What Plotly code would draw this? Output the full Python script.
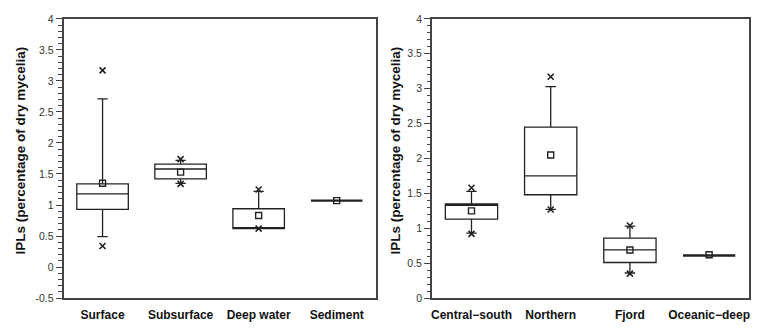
import plotly.graph_objects as go

# ---------------- data ----------------
left_cats = ["Surface", "Subsurface", "Deep water", "Sediment"]
left_q1 = [0.93, 1.42, 0.62, 1.07]
left_median = [1.18, 1.58, 0.62, 1.07]
left_q3 = [1.34, 1.66, 0.94, 1.07]
left_lower = [0.49, 1.35, 0.62, 1.07]
left_upper = [2.71, 1.72, 1.22, 1.07]
left_mean = [1.35, 1.53, 0.83, 1.07]
left_min = [0.34, 1.34, 0.62, None]
left_max = [3.17, 1.74, 1.25, None]

right_cats = ["Central\u2212south", "Northern", "Fjord", "Oceanic\u2212deep"]
right_q1 = [1.13, 1.48, 0.51, 0.61]
right_median = [1.33, 1.75, 0.69, 0.61]
right_q3 = [1.35, 2.45, 0.86, 0.61]
right_lower = [0.93, 1.27, 0.36, 0.61]
right_upper = [1.53, 3.03, 1.03, 0.61]
right_mean = [1.25, 2.05, 0.69, 0.62]
right_min = [0.92, 1.27, 0.35, None]
right_max = [1.58, 3.17, 1.04, None]

left_ticks = [-0.5, 0, 0.5, 1, 1.5, 2, 2.5, 3, 3.5, 4]
left_ticktext = ["-0.5", "0", "0.5", "1", "1.5", "2", "2.5", "3", "3.5", "4"]
right_ticks = [0, 0.5, 1, 1.5, 2, 2.5, 3, 3.5, 4]
right_ticktext = ["0", "0.5", "1", "1.5", "2", "2.5", "3", "3.5", "4"]

y_title = "IPLs (percentage of dry mycelia)"

FONT = "Liberation Sans, Arial, sans-serif"
BOXC = "#222222"
AXC = "#444444"

fig = go.Figure()


def add_panel(cats, q1, med, q3, lo, hi, mean, mn, mx, xa, ya):
    # regular boxes and flat (single-value) boxes drawn with heavier line
    for flat in (False, True):
        idx = [i for i in range(len(cats)) if (q1[i] == q3[i]) == flat]
        if not idx:
            continue
        fig.add_trace(go.Box(
            x=[cats[i] for i in idx], q1=[q1[i] for i in idx],
            median=[med[i] for i in idx], q3=[q3[i] for i in idx],
            lowerfence=[lo[i] for i in idx], upperfence=[hi[i] for i in idx],
            xaxis=xa, yaxis=ya, width=0.66, whiskerwidth=0.2,
            line=dict(color=BOXC, width=2.4 if flat else 1.3),
            fillcolor="rgba(0,0,0,0)",
            boxpoints=False, hoverinfo="skip", showlegend=False,
        ))
    fig.add_trace(go.Scatter(
        x=cats, y=mean, mode="markers", xaxis=xa, yaxis=ya,
        marker=dict(symbol="square-open", size=6, color=BOXC,
                    line=dict(width=1.4, color=BOXC)),
        showlegend=False, hoverinfo="skip",
    ))
    for vals in (mn, mx):
        fig.add_trace(go.Scatter(
            x=cats, y=vals, mode="markers", xaxis=xa, yaxis=ya,
            marker=dict(symbol="x-thin-open", size=6, color=BOXC,
                        line=dict(width=1.6, color=BOXC)),
            showlegend=False, hoverinfo="skip",
        ))


add_panel(left_cats, left_q1, left_median, left_q3, left_lower, left_upper,
          left_mean, left_min, left_max, "x", "y")
add_panel(right_cats, right_q1, right_median, right_q3, right_lower, right_upper,
          right_mean, right_min, right_max, "x2", "y2")

W, H = 765, 334
ydom = [1 - 303 / H, 1 - 13.3 / H]

xcommon = dict(
    type="category", range=[-0.5, 3.5], showline=True, mirror=True,
    linecolor=AXC, linewidth=1.6, ticks="", showgrid=False, zeroline=False,
    ticklabelstandoff=5,
    categoryorder="array",
    tickfont=dict(family=FONT, size=12, color="#111111", weight=700),
)
ycommon = dict(
    showline=True, mirror=True, linecolor=AXC, linewidth=1.6,
    ticks="outside", ticklen=6, tickwidth=1.2, tickcolor=AXC,
    showgrid=False, zeroline=False,
    tickfont=dict(family=FONT, size=10.5, color="#333333"),
    minor=dict(dtick=0.1, ticks="outside", ticklen=3.5, tickwidth=1, tickcolor=AXC,
               showgrid=False),
)

fig.update_layout(
    width=W, height=H,
    margin=dict(l=0, r=0, t=0, b=0),
    paper_bgcolor="white", plot_bgcolor="white",
    showlegend=False, boxmode="overlay",
    xaxis=dict(domain=[62.7 / W, 375.7 / W], anchor="y",
               categoryarray=left_cats, **xcommon),
    xaxis2=dict(domain=[432 / W, 749.7 / W], anchor="y2",
                categoryarray=right_cats, **xcommon),
    yaxis=dict(domain=ydom, anchor="x", range=[-0.5, 4],
               tickvals=left_ticks, ticktext=left_ticktext, **ycommon),
    yaxis2=dict(domain=ydom, anchor="x2", range=[0, 4],
                tickvals=right_ticks, ticktext=right_ticktext, **ycommon),
    annotations=[
        dict(text=y_title, xref="paper", yref="paper", x=20 / W, y=1 - 150 / H,
             textangle=-90, showarrow=False, xanchor="center", yanchor="middle",
             font=dict(family=FONT, size=13.5, color="#111111", weight=700)),
        dict(text=y_title, xref="paper", yref="paper", x=396 / W, y=1 - 150 / H,
             textangle=-90, showarrow=False, xanchor="center", yanchor="middle",
             font=dict(family=FONT, size=13.5, color="#111111", weight=700)),
    ],
)

fig.write_html("out.html")
